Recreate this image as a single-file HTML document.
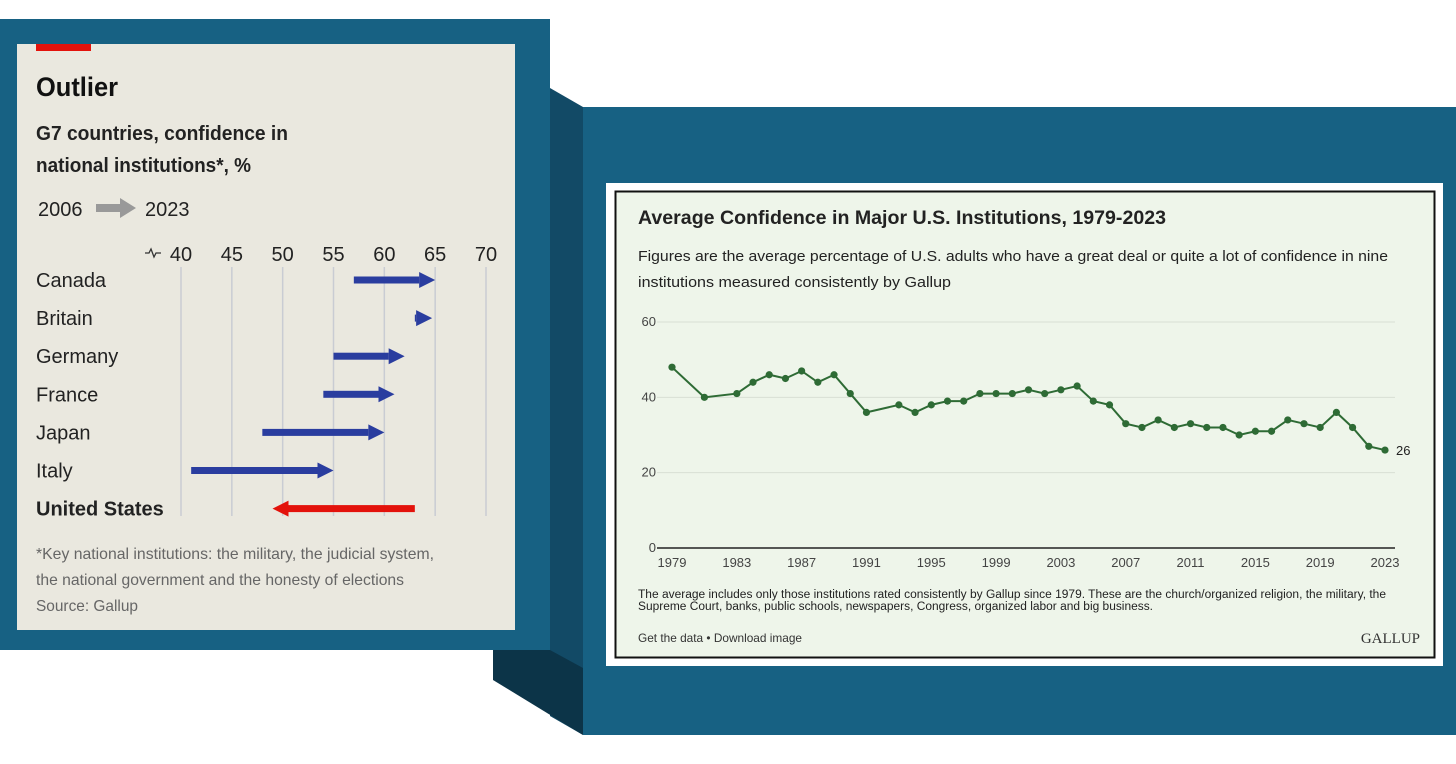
<!DOCTYPE html>
<html><head><meta charset="utf-8"><style>
html,body{margin:0;padding:0;background:#fff;}
svg{display:block;font-family:"Liberation Sans",sans-serif;}
</style></head><body>
<svg width="1456" height="764" viewBox="0 0 1456 764">
  <rect x="0" y="0" width="1456" height="764" fill="#ffffff"/>
  <polygon points="550,88 583,107 583,735 550,716" fill="#124a66"/>
  <polygon points="493,650 550,650 583,668 583,735 493,680" fill="#0c3448"/>
  <rect x="583" y="107" width="873" height="628" fill="#176183"/>
  <rect x="0" y="19" width="550" height="631" fill="#176183"/>
  <rect x="17" y="44" width="498" height="586" fill="#eae8df"/>
  <rect x="36" y="44" width="55" height="7" fill="#e3120b"/>
  <text x="36" y="96" font-size="27" font-weight="bold" fill="#111" textLength="82" lengthAdjust="spacingAndGlyphs">Outlier</text>
  <text x="36" y="140" font-size="20" font-weight="bold" fill="#222" textLength="252" lengthAdjust="spacingAndGlyphs">G7 countries, confidence in</text>
  <text x="36" y="172" font-size="20" font-weight="bold" fill="#222" textLength="215" lengthAdjust="spacingAndGlyphs">national institutions*, %</text>
  <text x="38" y="216" font-size="20" fill="#222">2006</text>
  <rect x="96" y="204" width="26" height="8" fill="#999"/>
  <polygon points="120,198 136,208 120,218" fill="#999"/>
  <text x="145" y="216" font-size="20" fill="#222">2023</text>
  <g id="left-chart"></g>
  <text x="36" y="559" font-size="16" fill="#666" textLength="398" lengthAdjust="spacingAndGlyphs">*Key national institutions: the military, the judicial system,</text>
  <text x="36" y="585" font-size="16" fill="#666" textLength="368" lengthAdjust="spacingAndGlyphs">the national government and the honesty of elections</text>
  <text x="36" y="611" font-size="16" fill="#666" textLength="102" lengthAdjust="spacingAndGlyphs">Source: Gallup</text>

  <rect x="606" y="183" width="837" height="483" fill="#ffffff"/>
  <rect x="615.5" y="191.5" width="819" height="466" fill="#eef5ea" stroke="#111" stroke-width="2"/>
  <text x="638" y="224" font-size="19" font-weight="bold" fill="#222" textLength="528" lengthAdjust="spacingAndGlyphs">Average Confidence in Major U.S. Institutions, 1979-2023</text>
  <text x="638" y="261" font-size="15" fill="#222" textLength="750" lengthAdjust="spacingAndGlyphs">Figures are the average percentage of U.S. adults who have a great deal or quite a lot of confidence in nine</text>
  <text x="638" y="287" font-size="15" fill="#222" textLength="313" lengthAdjust="spacingAndGlyphs">institutions measured consistently by Gallup</text>
  <g id="right-chart"></g>
  <text x="638" y="598" font-size="11.5" fill="#222" textLength="748" lengthAdjust="spacingAndGlyphs">The average includes only those institutions rated consistently by Gallup since 1979. These are the church/organized religion, the military, the</text>
  <text x="638" y="610" font-size="11.5" fill="#222" textLength="515" lengthAdjust="spacingAndGlyphs">Supreme Court, banks, public schools, newspapers, Congress, organized labor and big business.</text>
  <text x="638" y="642" font-size="12" fill="#333" textLength="164" lengthAdjust="spacingAndGlyphs">Get the data • Download image</text>
  <text x="1420" y="643" font-size="15" fill="#333" text-anchor="end" font-family="Liberation Serif, serif">GALLUP</text>
</svg>
<script>
const NS='http://www.w3.org/2000/svg';
function mk(tag,attrs,parent){const e=document.createElementNS(NS,tag);for(const k in attrs)e.setAttribute(k,attrs[k]);parent.appendChild(e);return e;}

const countries=['Canada','Britain','Germany','France','Japan','Italy','United States'];
const val2006=[57,63,55,54,48,41,63];
const val2023=[65,64.7,62,61,60,55,49];
const xTicks=[40,45,50,55,60,65,70];

const L=document.getElementById('left-chart');
const lx=v=>181+(v-40)*(305/30);
const ly=i=>280+i*38.1;
mk('path',{d:'M145 253 l4 0 l2 -4 l3 8 l2 -4 l5 0',fill:'none',stroke:'#333','stroke-width':1.3},L);
xTicks.forEach(t=>{
  const ln=mk('line',{x1:lx(t),x2:lx(t),y1:267,y2:516,stroke:'#c9ccd3','stroke-width':1.5},L);
  
  
  const tx=mk('text',{x:lx(t),y:261,'font-size':20,'text-anchor':'middle',fill:'#222'},L);
  tx.textContent=t;
  
  
});
countries.forEach((c,i)=>{
  const us=c==='United States';
  const lab=mk('text',{x:36,y:ly(i)+7,'font-size':20,fill:'#222','font-weight':us?'bold':'normal'},L);
  lab.textContent=c;
  
  
  const a=lx(val2006[i]),b=lx(val2023[i]),y=ly(i);
  const dir=b>a?1:-1, hl=16, hw=8;
  const col=us?'#e3120b':'#2a3d9f';
  const g=mk('g',{},L);
  
  
  const neck=b-dir*hl;
  if(Math.abs(b-a)>hl) mk('rect',{x:Math.min(a,neck),y:y-3.5,width:Math.abs(neck-a),height:7,fill:col},g);
  mk('polygon',{points:`${neck},${y-hw} ${b},${y} ${neck},${y+hw}`,fill:col},g);
});

const years=[1979,1981,1983,1984,1985,1986,1987,1988,1989,1990,1991,1993,1994,1995,1996,1997,1998,1999,2000,2001,2002,2003,2004,2005,2006,2007,2008,2009,2010,2011,2012,2013,2014,2015,2016,2017,2018,2019,2020,2021,2022,2023];
const confidence=[48,40,41,44,46,45,47,44,46,41,36,38,36,38,39,39,41,41,41,42,41,42,43,39,38,33,32,34,32,33,32,32,30,31,31,34,33,32,36,32,27,26];
const yTicks=[0,20,40,60];
const xLabels=[1979,1983,1987,1991,1995,1999,2003,2007,2011,2015,2019,2023];

const R=document.getElementById('right-chart');
const rx=yr=>672+(yr-1979)*(713/44);
const ry=v=>548-v*(226/60);
yTicks.forEach(t=>{
  const ln=mk('line',{x1:657,x2:1395,y1:ry(t),y2:ry(t),stroke:t===0?'#222':'#d8dfd4','stroke-width':t===0?1.5:1},R);
  
  
  const tx=mk('text',{x:656,y:ry(t)+4,'font-size':13,'text-anchor':'end',fill:'#444'},R);
  tx.textContent=t;
  
  
});
xLabels.forEach(yr=>{
  const tx=mk('text',{x:rx(yr),y:567,'font-size':13,'text-anchor':'middle',fill:'#444'},R);
  tx.textContent=yr;
  
  
});
const line=mk('polyline',{points:years.map((y,i)=>rx(y)+','+ry(confidence[i])).join(' '),fill:'none',stroke:'#2e6b35','stroke-width':2},R);


years.forEach((y,i)=>{
  const c=mk('circle',{cx:rx(y),cy:ry(confidence[i]),r:3.6,fill:'#2e6b35'},R);
  
  
});
const last=confidence.length-1;
const end=mk('text',{x:rx(years[last])+11,y:ry(confidence[last])+5,'font-size':13,fill:'#222'},R);
end.textContent=confidence[last];


</script>
</body></html>
